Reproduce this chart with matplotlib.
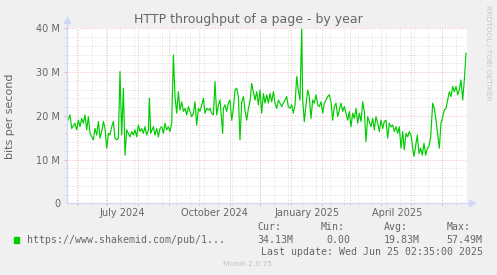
import datetime as dt
import numpy as np
import matplotlib
matplotlib.use('Agg')
import matplotlib.pyplot as plt
import matplotlib.dates as mdates

# days after 2024-05-22 and throughput in Mbit/s
days = [0.0, 3.3, 5.0, 8.3, 10.0, 11.7, 13.3, 15.0, 16.7, 18.3, 20.0, 21.7, 23.3, 25.0,
        26.7, 28.3, 30.0, 31.7, 33.3, 35.0, 36.7, 38.3, 40.0, 41.7, 43.3, 45.0, 46.7, 48.3,
        50.0, 51.7, 53.3, 55.0, 56.7, 58.3, 60.0, 61.7, 63.3, 65.0, 66.7, 68.3, 70.0, 71.7,
        73.3, 75.0, 76.7, 78.3, 80.0, 81.7, 82.7, 84.0, 86.7, 88.3, 90.0, 91.7, 93.3, 95.0,
        96.7, 98.3, 100.0, 101.7, 103.3, 105.0, 106.7, 108.3, 110.0, 111.7, 113.3, 115.0,
        116.7, 118.3, 120.0, 121.7, 123.3, 125.0, 126.7, 128.3, 130.0, 131.7, 133.3, 135.0,
        136.7, 138.3, 140.0, 141.7, 143.3, 145.0, 146.7, 148.3, 150.0, 151.7, 153.3, 155.0,
        156.0, 156.7, 158.3, 160.0, 161.7, 163.3, 165.0, 166.7, 168.3, 170.0, 171.7, 173.3,
        175.0, 176.7, 178.3, 180.0, 181.7, 183.3, 185.0, 186.7, 188.3, 190.0, 191.7, 193.3,
        195.0, 196.7, 198.3, 200.0, 201.7, 203.3, 205.0, 206.7, 208.3, 210.0, 211.7, 213.3,
        215.0, 216.6, 218.3, 220.0, 221.6, 223.3, 225.0, 226.6, 228.3, 230.0, 231.6, 233.3,
        235.0, 236.0, 237.6, 239.3, 241.0, 242.6, 244.3, 246.0, 247.6, 249.3, 251.0, 252.6,
        254.3, 256.0, 257.6, 259.3, 261.0, 262.6, 264.3, 266.0, 267.6, 269.3, 271.0, 272.6,
        274.3, 276.0, 277.6, 279.3, 281.0, 282.6, 284.3, 286.0, 287.6, 289.3, 291.0, 292.6,
        294.3, 296.0, 297.6, 299.3, 301.0, 302.6, 304.3, 306.0, 307.6, 309.3, 311.0, 312.6,
        314.3, 316.0, 317.6, 319.3, 321.0, 322.6, 324.3, 326.0, 327.6, 329.3, 331.0, 332.6,
        334.3, 336.0, 337.6, 339.3, 341.0, 342.6, 344.3, 346.0, 347.3, 349.0, 350.6, 352.3,
        354.0, 355.6, 357.3, 359.0, 360.6, 362.3, 364.0, 366.0, 367.6, 369.3, 371.0, 372.6,
        374.3, 376.0, 377.6, 379.3, 381.0, 382.6, 384.3, 386.0, 387.6, 389.3, 391.0, 392.6,
        394.3, 396.0, 397.6, 399.3]
values = [18.3, 20.2, 17.1, 18.3, 16.8, 19.0, 17.5, 19.4, 18.3, 20.2, 16.8, 19.8, 16.0, 15.2,
          14.5, 17.1, 15.6, 18.7, 14.9, 16.4, 18.7, 17.1, 12.6, 16.0, 15.6, 17.5, 18.7, 14.9,
          14.5, 14.9, 30.1, 15.6, 26.3, 11.0, 16.8, 16.0, 15.2, 16.4, 15.6, 16.8, 15.2, 17.9,
          16.4, 17.1, 16.0, 17.5, 15.6, 16.8, 24.0, 16.0, 17.5, 15.6, 17.1, 15.2, 17.1, 17.5,
          16.0, 18.3, 16.8, 17.5, 16.4, 18.3, 33.9, 24.4, 20.6, 25.5, 21.3, 23.2,
          21.0, 21.7, 20.2, 22.1, 21.0, 19.8, 20.6, 23.2, 17.9, 21.7, 21.0, 22.5,
          24.0, 20.6, 21.7, 21.3, 21.7, 20.6, 20.2, 27.8, 20.2, 22.5, 23.6, 19.0,
          16.0, 21.7, 22.5, 21.0, 22.9, 23.6, 19.0, 21.7, 25.9, 26.3, 24.4, 14.5,
          23.2, 24.4, 21.3, 19.0, 21.7, 23.2, 27.4, 25.5, 23.6, 25.5, 22.5, 25.9,
          20.6, 25.1, 22.9, 24.8, 22.9, 25.1, 23.2, 25.5, 22.9, 21.7, 23.6, 22.9,
          22.1, 22.9, 23.6, 24.4, 22.1, 21.7, 22.5, 20.6, 22.5, 29.0, 25.9, 23.6,
          39.8, 23.6, 18.7, 22.5, 25.9, 24.4, 19.4, 23.6, 22.9, 24.8, 22.5, 22.1,
          23.2, 20.6, 22.9, 23.6, 24.4, 24.8, 23.2, 19.0, 22.1, 22.9, 19.8, 21.3,
          22.9, 21.0, 22.1, 20.6, 19.0, 21.0, 17.5, 20.6, 19.4, 21.7, 18.3, 20.6,
          18.7, 23.2, 21.0, 14.1, 19.8, 18.7, 17.5, 19.4, 16.8, 19.8, 18.3, 16.4,
          19.0, 17.1, 18.7, 19.0, 14.9, 18.3, 17.5, 17.9, 16.4, 17.5, 16.0, 17.5,
          12.6, 16.4, 12.2, 16.0, 15.2, 16.4, 15.6, 12.6, 10.7, 13.3, 15.6, 11.4,
          12.6, 11.0, 13.7, 11.0, 12.6, 13.0, 15.2, 22.9, 21.7, 19.0, 15.6, 12.6,
          18.3, 19.8, 21.3, 21.7, 23.6, 25.5, 24.4, 26.7, 25.5, 26.7, 24.8, 25.9,
          28.2, 23.6, 28.2, 34.3]

start = dt.datetime(2024, 5, 22)
span_days = 400.6
y_ticks = [0, 10, 20, 30, 40]
y_ticklabels = ['0', '10 M', '20 M', '30 M', '40 M']
x_labels = ['July 2024', 'October 2024', 'January 2025', 'April 2025']
x_label_dates = [dt.datetime(2024, 7, 17), dt.datetime(2024, 10, 17),
                 dt.datetime(2025, 1, 17), dt.datetime(2025, 4, 17)]
series_label = 'https://www.shakemid.com/pub/1...'
stats_head = ['Cur:', 'Min:', 'Avg:', 'Max:']
stats_vals = ['34.13M', '0.00', '19.83M', '57.49M']

W, H = 497, 275
FONT = '#666666'
AXIS = '#CFD6F8'
GRID = '#d4d4d4'
MGRID = '#eaa8a8'
dotted = (0, (1, 2))

fig = plt.figure(figsize=(W / 100, H / 100), dpi=100, facecolor='#F0F0F0')
ax = fig.add_axes([66.7 / W, 71.7 / H, 400.6 / W, 175 / H])
ax.set_facecolor('white')
for s in ax.spines.values():
    s.set_visible(False)

x0 = mdates.date2num(start)
x1 = x0 + span_days
ax.set_xlim(x0, x1)
ax.set_ylim(0, 40)

# grid: minor gray every 2 M and every other Sunday, major red every 10 M and month start
xt = ax.get_xaxis_transform()
yt = ax.get_yaxis_transform()
minor_y = [v for v in range(2, 41, 2) if v % 10]
ax.hlines(minor_y, 0, 1, transform=yt, colors=GRID, lw=0.6, linestyles=dotted)
ax.hlines(minor_y, -0.006, 0, transform=yt, colors=GRID, lw=0.6, clip_on=False)
biweekly = [dt.datetime(2024, 6, 2) + dt.timedelta(days=14 * i) for i in range(29)]
biweekly = [d for d in biweekly if mdates.date2num(d) < x1]
ax.vlines(biweekly, 0, 1, transform=xt, colors=GRID, lw=0.6, linestyles=dotted)
ax.vlines(biweekly, -0.012, 0, transform=xt, colors=GRID, lw=0.6, clip_on=False)
months = [dt.datetime(2024 + (5 + i) // 12, (5 + i) % 12 + 1, 1) for i in range(13)]
ax.hlines([10, 20, 30, 40], 0, 1, transform=yt, colors=MGRID, lw=0.6, linestyles=dotted)
ax.hlines([10, 20, 30, 40], -0.006, 0, transform=yt, colors=MGRID, lw=0.6, clip_on=False)
ax.vlines(months, 0, 1, transform=xt, colors=MGRID, lw=0.6, linestyles=dotted)
ax.vlines(months, -0.012, 0, transform=xt, colors=MGRID, lw=0.6, clip_on=False)

dates = [start + dt.timedelta(days=d) for d in days]
ax.plot(dates, values, color='#00CC00', lw=0.85, zorder=3)

# axes with arrows
ax.plot([x0, x1 + 4], [0, 0], color=AXIS, lw=0.9, clip_on=False, zorder=4)
ax.plot([x0, x0], [0, 41.5], color=AXIS, lw=0.9, clip_on=False, zorder=4)
ax.plot([x1 + 4.5], [0], marker='>', ms=4, color=AXIS, clip_on=False, zorder=4)
ax.plot([x0], [42.0], marker='^', ms=4, color=AXIS, clip_on=False, zorder=4)

ax.set_yticks(y_ticks)
ax.set_yticklabels(y_ticklabels)
ax.set_xticks(x_label_dates)
ax.set_xticklabels(x_labels)
ax.tick_params(axis='y', length=0, pad=4.8, labelsize=7, labelcolor=FONT)
ax.tick_params(axis='x', length=0, pad=3.2, labelsize=7, labelcolor=FONT)
ax.set_ylabel('bits per second', fontsize=8, color=FONT)
ax.yaxis.set_label_coords(-0.128, 0.5)

fig.text(248.5 / W, 1 - 19.3 / H, 'HTTP throughput of a page - by year',
         ha='center', va='center', fontsize=9, color=FONT)
fig.text(488 / W, 1 - 53 / H, 'RRDTOOL / TOBI OETIKER', rotation=270,
         ha='center', va='center', fontsize=5.4, color='#c6c6c6')

# legend block
mono = 'DejaVu Sans Mono'
fig.patches.append(plt.Rectangle((14 / W, 1 - 242.7 / H), 5.3 / W, 5.3 / H,
                                 transform=fig.transFigure, color='#00CC00'))
fig.text(26.7 / W, 1 - 240 / H, series_label, family=mono, fontsize=7.1,
         color=FONT, va='center')
head_x = [257.3, 320.7, 384, 446.7]
val_x = [257.3, 326.7, 384, 446.7]
for hx, vx, h, v in zip(head_x, val_x, stats_head, stats_vals):
    fig.text(hx / W, 1 - 227 / H, h, family=mono, fontsize=7.1, color=FONT, va='center')
    fig.text(vx / W, 1 - 240 / H, v, family=mono, fontsize=7.1, color=FONT, va='center')
fig.text(482.7 / W, 1 - 251.7 / H, 'Last update: Wed Jun 25 02:35:00 2025',
         family=mono, fontsize=7.1, color=FONT, ha='right', va='center')
fig.text(247.7 / W, 1 - 264 / H, 'Munin 2.0.75', fontsize=5.4, color='#c0c0c0',
         ha='center', va='center')

fig.savefig('out.png', dpi=100, facecolor=fig.get_facecolor())
